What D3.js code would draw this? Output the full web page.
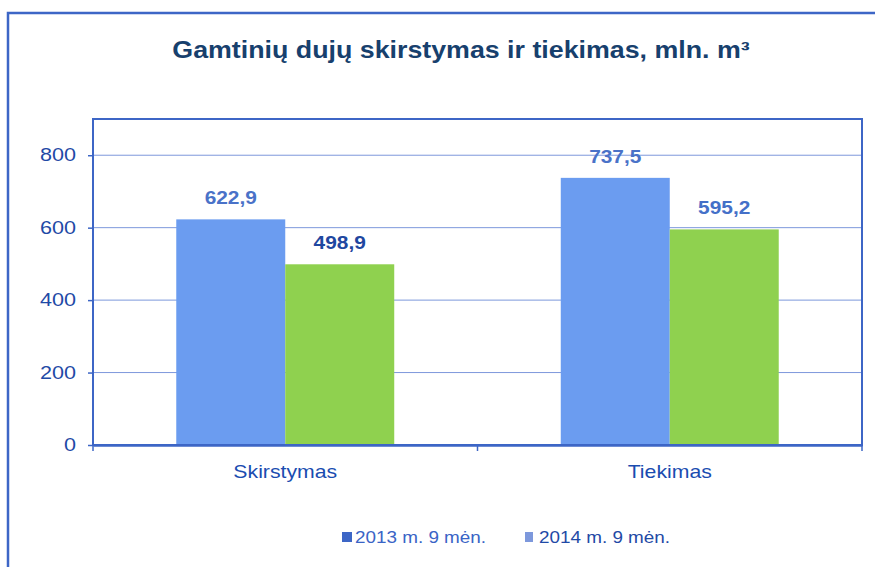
<!DOCTYPE html>
<html><head><meta charset="utf-8">
<script src="https://cdn.jsdelivr.net/npm/d3@7"></script>
<style>
html,body{margin:0;padding:0;background:#fff;}
svg{display:block;font-family:"Liberation Sans",Arial,sans-serif;}
</style></head>
<body>
<svg id="c" width="875" height="567"></svg>
<script>
const title = "Gamtinių dujų skirstymas ir tiekimas, mln. m³";
const categories = ["Skirstymas", "Tiekimas"];
const seriesNames = ["2013 m. 9 mėn.", "2014 m. 9 mėn."];
const values2013 = [622.9, 737.5];
const values2014 = [498.9, 595.2];
const yTicks = [0, 200, 400, 600, 800];
const yMax = 900;

const fmt = v => v.toFixed(1).replace(".", ",");
const seriesColors = ["#6b9cf0", "#8fd14f"];
const labelColors = [["#4a72c8", "#4a72c8"], ["#1f47a0", "#4470c8"]];

// horizontally stretch text around its anchor x
function stretch(sel, k) {
  sel.each(function() {
    const t = d3.select(this);
    const x = +(t.attr("x") || 0);
    t.attr("transform", `translate(${x * (1 - k)},0) scale(${k},1)`);
  });
}

const svg = d3.select("#c");
const m = {l: 93, r: 862, t: 119, b: 445};

// outer frame
svg.append("path").attr("d", "M8,567 V13 H875").attr("fill", "none")
  .attr("stroke", "#3d66c6").attr("stroke-width", 2.5);

svg.append("text").attr("x", 461).attr("y", 58).attr("text-anchor", "middle")
  .attr("font-weight", "bold").attr("font-size", 23).attr("fill", "#17406d")
  .text(title).call(stretch, 1.165);

const x0 = d3.scaleBand().domain(categories).range([m.l, m.r]).paddingInner(0).paddingOuter(0);
const x1 = d3.scaleBand().domain(seriesNames).range([0, x0.bandwidth()]).paddingOuter(0.764).paddingInner(0);
const y = d3.scaleLinear().domain([0, yMax]).range([m.b, m.t]);

// gridlines
svg.append("g").selectAll("line").data(yTicks.filter(d => d > 0)).join("line")
  .attr("x1", m.l).attr("x2", m.r).attr("y1", d => y(d)).attr("y2", d => y(d))
  .attr("stroke", "#7d98dc").attr("stroke-width", 1);

// bars
const series = [values2013, values2014];
const g = svg.append("g");
series.forEach((vals, si) => {
  g.selectAll(null).data(categories).join("rect")
    .attr("x", c => x0(c) + x1(seriesNames[si]))
    .attr("y", (c, i) => y(vals[i]))
    .attr("width", x1.bandwidth())
    .attr("height", (c, i) => y(0) - y(vals[i]))
    .attr("fill", seriesColors[si]);
});

// value labels
series.forEach((vals, si) => {
  g.selectAll(null).data(categories).join("text")
    .attr("x", c => x0(c) + x1(seriesNames[si]) + x1.bandwidth() / 2)
    .attr("y", (c, i) => y(vals[i]) - 15)
    .attr("text-anchor", "middle").attr("font-weight", "bold").attr("font-size", 18)
    .attr("fill", (c, i) => labelColors[si][i])
    .text((c, i) => fmt(vals[i]))
    .call(stretch, 1.16);
});

// plot frame
svg.append("rect").attr("x", m.l).attr("y", m.t).attr("width", m.r - m.l).attr("height", m.b - m.t)
  .attr("fill", "none").attr("stroke", "#3d66c6").attr("stroke-width", 2);

// y axis
const ya = svg.append("g").attr("transform", `translate(${m.l},0)`)
  .call(d3.axisLeft(y).tickValues(yTicks).tickSize(5).tickPadding(12).tickFormat(d3.format("d")));
ya.select(".domain").remove();
ya.selectAll("line").attr("stroke", "#3d66c6").attr("stroke-width", 1.5);
ya.selectAll("text").attr("font-size", 18).attr("fill", "#1f4aa6").attr("font-family", "Liberation Sans, Arial, sans-serif")
  .call(stretch, 1.2);

// x axis
const xa = svg.append("g").attr("transform", `translate(0,${m.b})`)
  .call(d3.axisBottom(x0).tickSize(0).tickPadding(20));
xa.select(".domain").attr("stroke", "#3d66c6").attr("stroke-width", 2.5);
xa.selectAll("text").attr("font-size", 18).attr("fill", "#1a4cb0").attr("font-family", "Liberation Sans, Arial, sans-serif")
  .call(stretch, 1.18);
// category boundary ticks
const bounds = [m.l, x0(categories[1]), m.r];
xa.selectAll(".bt").data(bounds).join("line").attr("class", "bt")
  .attr("x1", d => d).attr("x2", d => d).attr("y1", 0).attr("y2", 6)
  .attr("stroke", "#3d66c6").attr("stroke-width", 1.5);

// legend
const lg = svg.append("g").attr("transform", "translate(342,537)");
const legX = [0, 183];
seriesNames.forEach((s, i) => {
  const it = lg.append("g").attr("transform", `translate(${legX[i]},0)`);
  it.append("rect").attr("x", 0).attr("y", -5).attr("width", i === 0 ? 10 : 8).attr("height", 10)
    .attr("fill", i === 0 ? "#3d66c6" : "#7d98dc");
  it.append("text").attr("x", i === 0 ? 13 : 14).attr("y", 6).attr("font-size", 16)
    .attr("fill", i === 0 ? "#3a64c6" : "#1f4aa6").text(s)
    .call(stretch, 1.18);
});
</script>
</body></html>
